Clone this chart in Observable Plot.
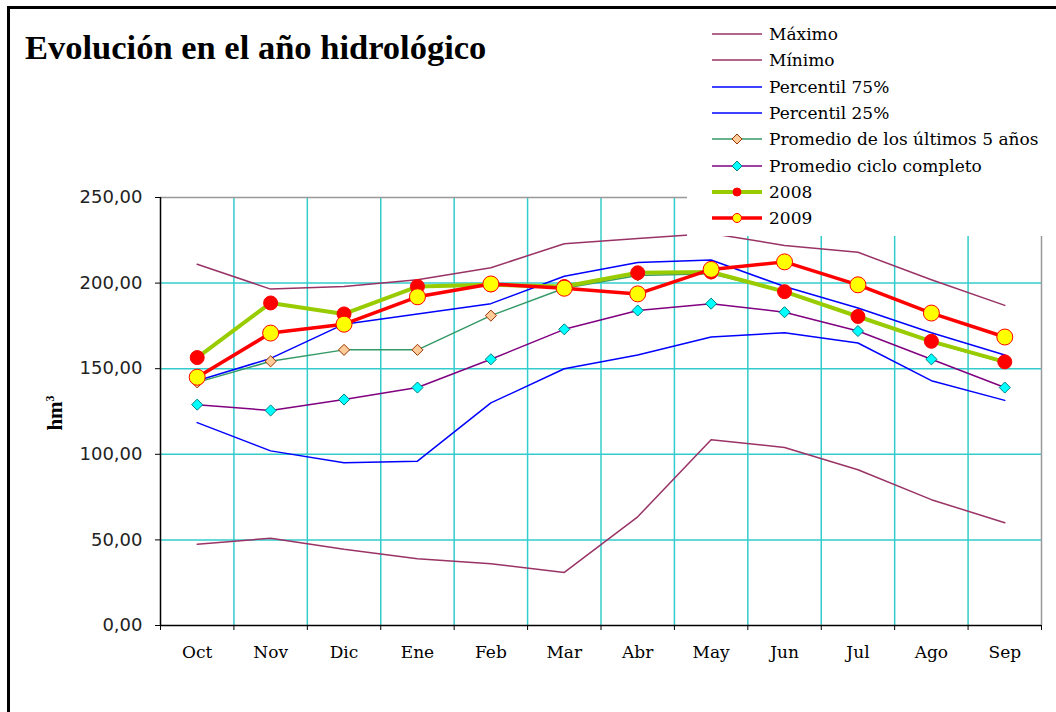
<!DOCTYPE html>
<html><head><meta charset="utf-8">
<script src="https://cdn.jsdelivr.net/npm/d3@7"></script>
<script src="https://cdn.jsdelivr.net/npm/@observablehq/plot@0.6"></script>
<style>
body{margin:0;background:#fff;}
#wrap{position:relative;width:1056px;height:712px;overflow:hidden;background:#fff;}
#chart{position:absolute;left:0;top:0;}
#frame{position:absolute;left:7px;top:6px;width:1200px;height:900px;border-left:3px solid #000;border-top:3px solid #000;pointer-events:none;}
#title{position:absolute;left:25px;top:31px;font:bold 34.5px "Liberation Serif",serif;line-height:33px;white-space:nowrap;color:#000;}
#legend{position:absolute;left:687px;top:10px;width:369px;height:226px;background:#fff;}
.row{position:absolute;left:24px;height:26px;display:flex;align-items:center;font:17px "DejaVu Serif",serif;color:#000;white-space:nowrap;}
.row svg{margin-right:6px;}
</style></head>
<body><div id="wrap"><div id="chart"></div><div id="legend"></div><div id="title">Evolución en el año hidrológico</div><div id="frame"></div></div>
<script>
const months = ["Oct","Nov","Dic","Ene","Feb","Mar","Abr","May","Jun","Jul","Ago","Sep"];
const yTicks = [0,50,100,150,200,250];
const maximo   = [211,196.5,198,202,209,223,226,229,222,218,202,187];
const minimo   = [47.5,51,44.5,39,36,31,63.5,108.5,104,91,73.5,60];
const p75      = [143,156,176,182,188,204,212,213.5,198,185.5,171,158];
const p25      = [118.5,102,95,96,130,150,158,168.5,171,165,143,131.5];
const prom5    = [142,154.3,161,161,181,197,204.5,205.5,195,180,165.5,153.5];
const promCiclo= [129,125.6,132,139,155.5,173,184,188,183,172,155.5,139];
const y2008    = [156.5,188.4,182,198,199,198,206,206.5,195,180.5,166,154];
const y2009    = [145,170.8,176,192,199.5,197,193.7,208,212.4,199,182.5,168.5];
const names = ["Máximo","Mínimo","Percentil 75%","Percentil 25%","Promedio de los últimos 5 años","Promedio ciclo completo","2008","2009"];

const series = [
  {name:names[0], values:maximo,   stroke:"#993366", sw:1.5},
  {name:names[1], values:minimo,   stroke:"#993366", sw:1.5},
  {name:names[2], values:p75,      stroke:"#0000ff", sw:1.5},
  {name:names[3], values:p25,      stroke:"#0000ff", sw:1.5},
  {name:names[4], values:prom5,    stroke:"#339966", sw:1.5, symbol:"diamond2", fill:"#ffcc99", mstroke:"#993300", r:5},
  {name:names[5], values:promCiclo,stroke:"#800080", sw:1.5, symbol:"diamond2", fill:"#00ffff", mstroke:"#008080", r:5},
  {name:names[6], values:y2008,    stroke:"#99cc00", sw:4,   symbol:"circle", fill:"#ff0000", mstroke:"#ff0000", r:7},
  {name:names[7], values:y2009,    stroke:"#ff0000", sw:3.5, symbol:"circle", fill:"#ffff00", mstroke:"#ff0000", r:8}
];

const grid = "#33cccc";
const marks = [
  Plot.ruleY([50,100,150,200], {stroke:grid, strokeWidth:1.5}),
  Plot.ruleX(d3.range(0.5, 11, 1), {y1:0, y2:250, stroke:grid, strokeWidth:1.5}),
  Plot.ruleY([250], {stroke:"#999", strokeWidth:1.5}),
  Plot.ruleX([11.5], {y1:0, y2:250, stroke:"#999", strokeWidth:1.5}),
  Plot.ruleX([-0.5], {y1:0, y2:250, stroke:"#000", strokeWidth:1.5}),
  Plot.ruleY([0], {stroke:"#000", strokeWidth:1.5}),
  Plot.axisY({ticks:yTicks, tickSize:5, tickPadding:13, label:null, stroke:"#000",
    tickFormat:d=>d.toFixed(2).replace(".",","), fontSize:18, fontFamily:"DejaVu Sans", fill:"#222"}),
  Plot.axisX({ticks:d3.range(-0.5, 12, 1), tickSize:5, tickFormat:()=>"", label:null, stroke:"#000"}),
  Plot.axisX({ticks:d3.range(12), tickSize:0, tickPadding:20, label:null,
    tickFormat:i=>months[i], fontSize:17, fontFamily:"DejaVu Serif", fill:"#000"})
];
for (const s of series) {
  const rows = s.values.map((v,i)=>({i, v}));
  marks.push(Plot.line(rows, {x:"i", y:"v", stroke:s.stroke, strokeWidth:s.sw}));
  if (s.symbol) marks.push(Plot.dot(rows, {x:"i", y:"v", symbol:s.symbol, r:s.r, fill:s.fill, stroke:s.mstroke, strokeWidth:1}));
}

const chart = Plot.plot({
  width:1056, height:712,
  marginLeft:160, marginRight:15, marginTop:197, marginBottom:87,
  x:{type:"linear", domain:[-0.5,11.5], axis:null},
  y:{domain:[0,250], axis:null},
  style:{background:"transparent"},
  marks
});
document.getElementById("chart").appendChild(chart);

// y-axis title
const svg = d3.select(chart);
svg.append("text").attr("transform","translate(62,413) rotate(-90)")
  .attr("text-anchor","middle").attr("font-family","Liberation Serif").attr("font-weight","bold")
  .attr("font-size",21).attr("fill","#000")
  .html('hm<tspan dy="-8" font-size="12">3</tspan>');

// legend
const leg = document.getElementById("legend");
series.forEach((s,k)=>{
  const row = document.createElement("div");
  row.className = "row";
  row.style.top = (24 + k*26.3 - 13) + "px";
  let sym = "";
  if (s.symbol === "diamond2") sym = `<path d="M26,3 L31,8 L26,13 L21,8 Z" fill="${s.fill}" stroke="${s.mstroke}" stroke-width="1"/>`;
  else if (s.symbol === "circle") sym = `<circle cx="26" cy="8" r="${s.r===8?4.5:4}" fill="${s.fill}" stroke="${s.mstroke}" stroke-width="1"/>`;
  row.innerHTML = `<svg width="52" height="16"><line x1="1" x2="51" y1="8" y2="8" stroke="${s.stroke}" stroke-width="${s.sw}"/>${sym}</svg><span>${s.name}</span>`;
  leg.appendChild(row);
});
</script></body></html>
